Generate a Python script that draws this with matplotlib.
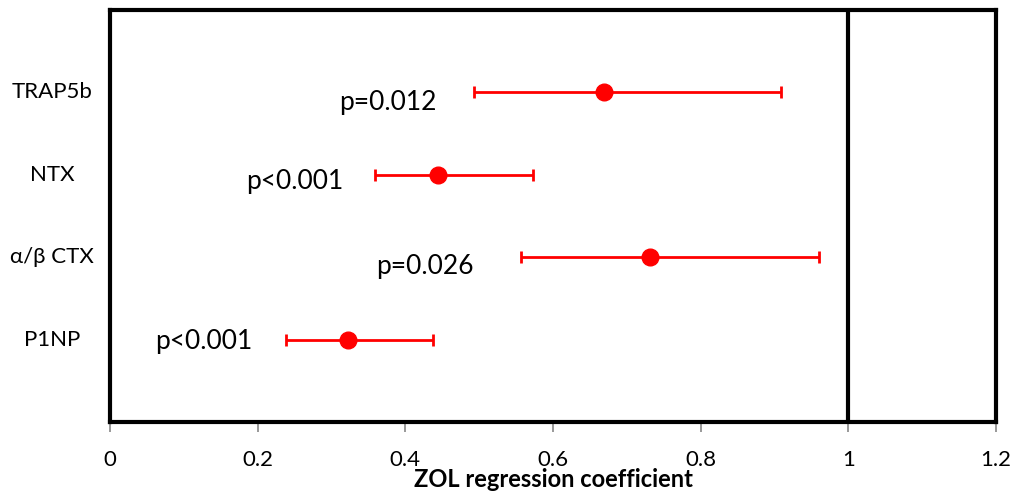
import matplotlib.pyplot as plt

markers = ['TRAP5b', 'NTX', 'α/β CTX', 'P1NP']
coef = [0.669, 0.444, 0.732, 0.322]
ci_low = [0.493, 0.359, 0.557, 0.238]
ci_high = [0.909, 0.573, 0.960, 0.437]
p_labels = ['p=0.012', 'p<0.001', 'p=0.026', 'p<0.001']

# label placement (layout only)
p_gap = [0.05, 0.043, 0.064, 0.045]
p_dy = [-0.12, -0.085, -0.11, -0.02]

plt.rcParams['font.family'] = ['Lato', 'DejaVu Sans']

fig = plt.figure(figsize=(10.22, 4.96), dpi=100)
ax = fig.add_axes([110 / 1022, 1 - 422 / 496, 886 / 1022, 412 / 496])

ypos = [4, 3, 2, 1]
xerr = [[c - lo for c, lo in zip(coef, ci_low)],
        [hi - c for c, hi in zip(coef, ci_high)]]
ax.errorbar(coef, ypos, xerr=xerr, fmt='o', color='#ff0000', ecolor='#ff0000',
            markersize=12, elinewidth=2, capsize=4, capthick=2, zorder=3)

for y, lo, txt, gap, dy in zip(ypos, ci_low, p_labels, p_gap, p_dy):
    ax.text(lo - gap, y + dy, txt, ha='right', va='center', fontsize=19)

ax.axvline(1, color='black', lw=3, zorder=2)

ax.set_xlim(0, 1.2)
ax.set_ylim(0, 5)
ax.set_xticks([0, 0.2, 0.4, 0.6, 0.8, 1, 1.2])
ax.set_xticklabels(['0', '0.2', '0.4', '0.6', '0.8', '1', '1.2'], fontsize=16)
ax.tick_params(axis='x', direction='out', length=7, width=1.2, color='#888888', pad=13)
ax.set_yticks([])

for y, name in zip(ypos, markers):
    ax.text(-0.065, y, name, ha='center', va='center', fontsize=16,
            transform=ax.get_yaxis_transform())

for s in ax.spines.values():
    s.set_linewidth(3)
    s.set_color('black')

ax.set_xlabel('ZOL regression coefficient', fontsize=17, fontweight='bold', labelpad=-1)

fig.savefig('out.png', dpi=100)
